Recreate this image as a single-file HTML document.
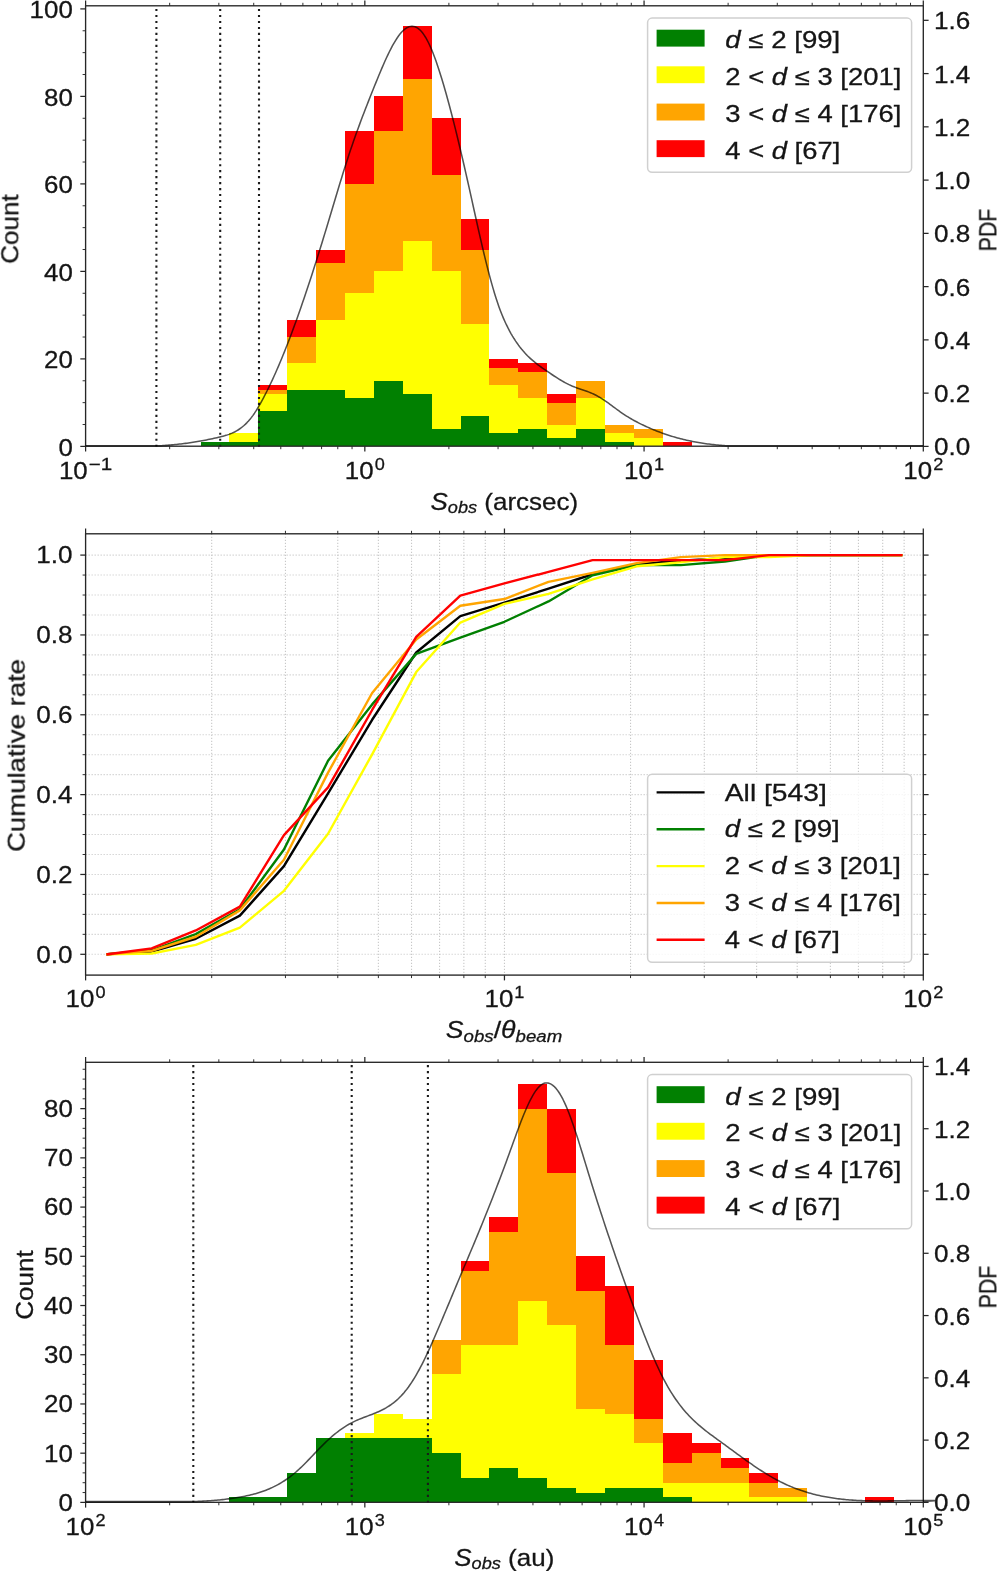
<!DOCTYPE html>
<html><head><meta charset="utf-8"><title>Sobs distributions</title>
<style>
html,body{margin:0;padding:0;background:#fff;}
body{width:997px;height:1571px;overflow:hidden;font-family:"Liberation Sans",sans-serif;}
svg{display:block;font-family:"Liberation Sans",sans-serif;}
svg text{fill:#151515;stroke:#151515;stroke-width:0.28px;}
</style></head><body>
<svg width="997" height="1571" viewBox="0 0 997 1571">
<rect width="997" height="1571" fill="#fff"/>
<g opacity="0.999">
<g>
<path d="M200.54 446.4L200.54 442.02L229.43 442.02L229.43 433.27L258.32 433.27L258.32 385.15L287.2 385.15L287.2 319.52L316.09 319.52L316.09 249.52L344.98 249.52L344.98 131.4L373.86 131.4L373.86 96.4L402.75 96.4L402.75 26.4L431.63 26.4L431.63 118.27L460.52 118.27L460.52 218.9L489.41 218.9L489.41 358.9L518.29 358.9L518.29 363.27L547.18 363.27L547.18 393.9L576.07 393.9L576.07 380.77L604.95 380.77L604.95 424.52L633.84 424.52L633.84 428.9L662.72 428.9L662.72 442.02L691.61 442.02L691.61 446.4Z" fill="#ff0000" shape-rendering="crispEdges"/>
<path d="M200.54 446.4L200.54 442.02L229.43 442.02L229.43 433.27L258.32 433.27L258.32 389.52L287.2 389.52L287.2 337.02L316.09 337.02L316.09 262.65L344.98 262.65L344.98 183.9L373.86 183.9L373.86 131.4L402.75 131.4L402.75 78.9L431.63 78.9L431.63 175.15L460.52 175.15L460.52 249.52L489.41 249.52L489.41 367.65L518.29 367.65L518.29 372.02L547.18 372.02L547.18 402.65L576.07 402.65L576.07 380.77L604.95 380.77L604.95 424.52L633.84 424.52L633.84 428.9L662.72 428.9L662.72 446.4Z" fill="#ffa500" shape-rendering="crispEdges"/>
<path d="M200.54 446.4L200.54 442.02L229.43 442.02L229.43 433.27L258.32 433.27L258.32 393.9L287.2 393.9L287.2 363.27L316.09 363.27L316.09 319.52L344.98 319.52L344.98 293.27L373.86 293.27L373.86 271.4L402.75 271.4L402.75 240.77L431.63 240.77L431.63 271.4L460.52 271.4L460.52 323.9L489.41 323.9L489.41 385.15L518.29 385.15L518.29 398.27L547.18 398.27L547.18 424.52L576.07 424.52L576.07 398.27L604.95 398.27L604.95 433.27L633.84 433.27L633.84 437.65L662.72 437.65L662.72 446.4Z" fill="#ffff00" shape-rendering="crispEdges"/>
<path d="M200.54 446.4L200.54 442.02L229.43 442.02L229.43 442.02L258.32 442.02L258.32 411.4L287.2 411.4L287.2 389.52L316.09 389.52L316.09 389.52L344.98 389.52L344.98 398.27L373.86 398.27L373.86 380.77L402.75 380.77L402.75 393.9L431.63 393.9L431.63 428.9L460.52 428.9L460.52 415.77L489.41 415.77L489.41 433.27L518.29 433.27L518.29 428.9L547.18 428.9L547.18 437.65L576.07 437.65L576.07 428.9L604.95 428.9L604.95 442.02L633.84 442.02L633.84 446.4Z" fill="#008000" shape-rendering="crispEdges"/>
<path d="M156.4 446.75V6.4" stroke="#1a1a1a" stroke-width="2.1" stroke-dasharray="2.1 3.868" fill="none"/>
<path d="M220.2 446.75V6.4" stroke="#1a1a1a" stroke-width="2.1" stroke-dasharray="2.1 3.868" fill="none"/>
<path d="M259 446.75V6.4" stroke="#1a1a1a" stroke-width="2.1" stroke-dasharray="2.1 3.868" fill="none"/>
<rect x="85.6" y="5.8" width="837.7" height="440.4" fill="none" stroke="#262626" stroke-width="1.35"/>
<path d="M85.6 446.2v5.3" stroke="#262626" stroke-width="1.25"/>
<path d="M85.6 5.8v-5.3" stroke="#262626" stroke-width="1.25"/>
<path d="M169.66 446.2v3" stroke="#262626" stroke-width="0.95"/>
<path d="M169.66 5.8v-3" stroke="#262626" stroke-width="0.95"/>
<path d="M218.83 446.2v3" stroke="#262626" stroke-width="0.95"/>
<path d="M218.83 5.8v-3" stroke="#262626" stroke-width="0.95"/>
<path d="M253.72 446.2v3" stroke="#262626" stroke-width="0.95"/>
<path d="M253.72 5.8v-3" stroke="#262626" stroke-width="0.95"/>
<path d="M280.78 446.2v3" stroke="#262626" stroke-width="0.95"/>
<path d="M280.78 5.8v-3" stroke="#262626" stroke-width="0.95"/>
<path d="M302.89 446.2v3" stroke="#262626" stroke-width="0.95"/>
<path d="M302.89 5.8v-3" stroke="#262626" stroke-width="0.95"/>
<path d="M321.58 446.2v3" stroke="#262626" stroke-width="0.95"/>
<path d="M321.58 5.8v-3" stroke="#262626" stroke-width="0.95"/>
<path d="M337.77 446.2v3" stroke="#262626" stroke-width="0.95"/>
<path d="M337.77 5.8v-3" stroke="#262626" stroke-width="0.95"/>
<path d="M352.06 446.2v3" stroke="#262626" stroke-width="0.95"/>
<path d="M352.06 5.8v-3" stroke="#262626" stroke-width="0.95"/>
<path d="M364.83 446.2v5.3" stroke="#262626" stroke-width="1.25"/>
<path d="M364.83 5.8v-5.3" stroke="#262626" stroke-width="1.25"/>
<path d="M448.89 446.2v3" stroke="#262626" stroke-width="0.95"/>
<path d="M448.89 5.8v-3" stroke="#262626" stroke-width="0.95"/>
<path d="M498.06 446.2v3" stroke="#262626" stroke-width="0.95"/>
<path d="M498.06 5.8v-3" stroke="#262626" stroke-width="0.95"/>
<path d="M532.95 446.2v3" stroke="#262626" stroke-width="0.95"/>
<path d="M532.95 5.8v-3" stroke="#262626" stroke-width="0.95"/>
<path d="M560.01 446.2v3" stroke="#262626" stroke-width="0.95"/>
<path d="M560.01 5.8v-3" stroke="#262626" stroke-width="0.95"/>
<path d="M582.12 446.2v3" stroke="#262626" stroke-width="0.95"/>
<path d="M582.12 5.8v-3" stroke="#262626" stroke-width="0.95"/>
<path d="M600.81 446.2v3" stroke="#262626" stroke-width="0.95"/>
<path d="M600.81 5.8v-3" stroke="#262626" stroke-width="0.95"/>
<path d="M617.01 446.2v3" stroke="#262626" stroke-width="0.95"/>
<path d="M617.01 5.8v-3" stroke="#262626" stroke-width="0.95"/>
<path d="M631.29 446.2v3" stroke="#262626" stroke-width="0.95"/>
<path d="M631.29 5.8v-3" stroke="#262626" stroke-width="0.95"/>
<path d="M644.07 446.2v5.3" stroke="#262626" stroke-width="1.25"/>
<path d="M644.07 5.8v-5.3" stroke="#262626" stroke-width="1.25"/>
<path d="M728.12 446.2v3" stroke="#262626" stroke-width="0.95"/>
<path d="M728.12 5.8v-3" stroke="#262626" stroke-width="0.95"/>
<path d="M777.29 446.2v3" stroke="#262626" stroke-width="0.95"/>
<path d="M777.29 5.8v-3" stroke="#262626" stroke-width="0.95"/>
<path d="M812.18 446.2v3" stroke="#262626" stroke-width="0.95"/>
<path d="M812.18 5.8v-3" stroke="#262626" stroke-width="0.95"/>
<path d="M839.24 446.2v3" stroke="#262626" stroke-width="0.95"/>
<path d="M839.24 5.8v-3" stroke="#262626" stroke-width="0.95"/>
<path d="M861.35 446.2v3" stroke="#262626" stroke-width="0.95"/>
<path d="M861.35 5.8v-3" stroke="#262626" stroke-width="0.95"/>
<path d="M880.05 446.2v3" stroke="#262626" stroke-width="0.95"/>
<path d="M880.05 5.8v-3" stroke="#262626" stroke-width="0.95"/>
<path d="M896.24 446.2v3" stroke="#262626" stroke-width="0.95"/>
<path d="M896.24 5.8v-3" stroke="#262626" stroke-width="0.95"/>
<path d="M910.52 446.2v3" stroke="#262626" stroke-width="0.95"/>
<path d="M910.52 5.8v-3" stroke="#262626" stroke-width="0.95"/>
<path d="M923.3 446.2v5.3" stroke="#262626" stroke-width="1.25"/>
<path d="M923.3 5.8v-5.3" stroke="#262626" stroke-width="1.25"/>
<path d="M85.6 446.4h-5.3" stroke="#262626" stroke-width="1.25"/>
<path d="M85.6 358.9h-5.3" stroke="#262626" stroke-width="1.25"/>
<path d="M85.6 271.4h-5.3" stroke="#262626" stroke-width="1.25"/>
<path d="M85.6 183.9h-5.3" stroke="#262626" stroke-width="1.25"/>
<path d="M85.6 96.4h-5.3" stroke="#262626" stroke-width="1.25"/>
<path d="M85.6 8.9h-5.3" stroke="#262626" stroke-width="1.25"/>
<path d="M85.6 424.52h-3" stroke="#262626" stroke-width="0.95"/>
<path d="M85.6 402.65h-3" stroke="#262626" stroke-width="0.95"/>
<path d="M85.6 380.77h-3" stroke="#262626" stroke-width="0.95"/>
<path d="M85.6 337.02h-3" stroke="#262626" stroke-width="0.95"/>
<path d="M85.6 315.15h-3" stroke="#262626" stroke-width="0.95"/>
<path d="M85.6 293.27h-3" stroke="#262626" stroke-width="0.95"/>
<path d="M85.6 249.52h-3" stroke="#262626" stroke-width="0.95"/>
<path d="M85.6 227.65h-3" stroke="#262626" stroke-width="0.95"/>
<path d="M85.6 205.77h-3" stroke="#262626" stroke-width="0.95"/>
<path d="M85.6 162.02h-3" stroke="#262626" stroke-width="0.95"/>
<path d="M85.6 140.15h-3" stroke="#262626" stroke-width="0.95"/>
<path d="M85.6 118.27h-3" stroke="#262626" stroke-width="0.95"/>
<path d="M85.6 74.52h-3" stroke="#262626" stroke-width="0.95"/>
<path d="M85.6 52.65h-3" stroke="#262626" stroke-width="0.95"/>
<path d="M85.6 30.77h-3" stroke="#262626" stroke-width="0.95"/>
<path d="M923.3 446.4h5.3" stroke="#262626" stroke-width="1.25"/>
<path d="M923.3 393.14h5.3" stroke="#262626" stroke-width="1.25"/>
<path d="M923.3 339.88h5.3" stroke="#262626" stroke-width="1.25"/>
<path d="M923.3 286.62h5.3" stroke="#262626" stroke-width="1.25"/>
<path d="M923.3 233.36h5.3" stroke="#262626" stroke-width="1.25"/>
<path d="M923.3 180.1h5.3" stroke="#262626" stroke-width="1.25"/>
<path d="M923.3 126.84h5.3" stroke="#262626" stroke-width="1.25"/>
<path d="M923.3 73.58h5.3" stroke="#262626" stroke-width="1.25"/>
<path d="M923.3 20.32h5.3" stroke="#262626" stroke-width="1.25"/>
<path d="M85.6 445.7L151 445.7 152.5 445.7 154 445.7 155.5 445.7 157 445.7 158.5 445.7 160 445.7 161.5 445.65 163 445.56 164.5 445.46 166 445.36 167.5 445.25 169 445.13 170.5 445 172 444.87 173.5 444.73 175 444.59 176.5 444.43 178 444.27 179.5 444.1 181 443.93 182.5 443.75 184 443.56 185.5 443.36 187 443.16 188.5 442.95 190 442.73 191.5 442.51 193 442.28 194.5 442.04 196 441.79 197.5 441.54 199 441.29 200.5 441.02 202 440.75 203.5 440.47 205 440.19 206.5 439.89 208 439.6 209.5 439.29 211 438.98 212.5 438.66 214 438.34 215.5 438 217 437.67 218.5 437.32 220 436.97 221.5 436.6 223 436.22 224.5 435.81 226 435.36 227.5 434.88 229 434.36 230.5 433.79 232 433.16 233.5 432.48 235 431.72 236.5 430.9 238 429.99 239.5 429 241 427.93 242.5 426.75 244 425.47 245.5 424.09 247 422.59 248.5 420.97 250 419.23 251.5 417.36 253 415.34 254.5 413.19 256 410.9 257.5 408.48 259 405.96 260.5 403.33 262 400.61 263.5 397.82 265 394.95 266.5 392.01 268 389 269.5 385.93 271 382.78 272.5 379.57 274 376.29 275.5 372.95 277 369.54 278.5 366.07 280 362.54 281.5 358.95 283 355.3 284.5 351.59 286 347.82 287.5 343.99 289 340.11 290.5 336.18 292 332.19 293.5 328.14 295 324.05 296.5 319.9 298 315.71 299.5 311.47 301 307.18 302.5 302.84 304 298.45 305.5 294.03 307 289.55 308.5 285.04 310 280.48 311.5 275.89 313 271.25 314.5 266.58 316 261.86 317.5 257.11 319 252.33 320.5 247.51 322 242.66 323.5 237.77 325 232.86 326.5 227.91 328 222.93 329.5 217.94 331 212.93 332.5 207.92 334 202.91 335.5 197.91 337 192.92 338.5 187.96 340 183.04 341.5 178.15 343 173.31 344.5 168.52 346 163.8 347.5 159.14 349 154.56 350.5 150.07 352 145.65 353.5 141.31 355 137.04 356.5 132.84 358 128.69 359.5 124.61 361 120.58 362.5 116.6 364 112.67 365.5 108.78 367 104.93 368.5 101.11 370 97.32 371.5 93.55 373 89.81 374.5 86.08 376 82.37 377.5 78.68 379 75.04 380.5 71.44 382 67.9 383.5 64.44 385 61.05 386.5 57.76 388 54.57 389.5 51.5 391 48.55 392.5 45.73 394 43.06 395.5 40.55 397 38.21 398.5 36.05 400 34.07 401.5 32.3 403 30.74 404.5 29.4 406 28.29 407.5 27.42 409 26.79 410.5 26.41 412 26.28 413.5 26.4 415 26.79 416.5 27.44 418 28.36 419.5 29.56 421 31.04 422.5 32.8 424 34.86 425.5 37.21 427 39.85 428.5 42.77 430 45.95 431.5 49.39 433 53.07 434.5 56.98 436 61.1 437.5 65.44 439 69.96 440.5 74.67 442 79.54 443.5 84.57 445 89.75 446.5 95.06 448 100.5 449.5 106.05 451 111.73 452.5 117.52 454 123.42 455.5 129.41 457 135.51 458.5 141.7 460 147.97 461.5 154.33 463 160.76 464.5 167.27 466 173.85 467.5 180.48 469 187.18 470.5 193.92 472 200.7 473.5 207.49 475 214.27 476.5 221.03 478 227.74 479.5 234.38 481 240.94 482.5 247.39 484 253.72 485.5 259.89 487 265.91 488.5 271.76 490 277.43 491.5 282.9 493 288.16 494.5 293.2 496 298.02 497.5 302.59 499 306.91 500.5 310.97 502 314.79 503.5 318.38 505 321.76 506.5 324.96 508 327.97 509.5 330.82 511 333.53 512.5 336.1 514 338.54 515.5 340.86 517 343.07 518.5 345.16 520 347.15 521.5 349.04 523 350.84 524.5 352.54 526 354.16 527.5 355.71 529 357.18 530.5 358.58 532 359.92 533.5 361.21 535 362.45 536.5 363.64 538 364.79 539.5 365.91 541 367 542.5 368.06 544 369.11 545.5 370.15 547 371.18 548.5 372.2 550 373.23 551.5 374.24 553 375.24 554.5 376.23 556 377.21 557.5 378.17 559 379.1 560.5 380.02 562 380.91 563.5 381.77 565 382.59 566.5 383.39 568 384.15 569.5 384.87 571 385.55 572.5 386.19 574 386.79 575.5 387.37 577 387.92 578.5 388.45 580 388.96 581.5 389.48 583 389.99 584.5 390.5 586 391.03 587.5 391.57 589 392.14 590.5 392.73 592 393.36 593.5 394.03 595 394.75 596.5 395.52 598 396.34 599.5 397.21 601 398.13 602.5 399.09 604 400.08 605.5 401.11 607 402.16 608.5 403.23 610 404.32 611.5 405.42 613 406.53 614.5 407.64 616 408.75 617.5 409.85 619 410.94 620.5 412.01 622 413.05 623.5 414.08 625 415.07 626.5 416.03 628 416.96 629.5 417.87 631 418.75 632.5 419.61 634 420.45 635.5 421.26 637 422.05 638.5 422.83 640 423.59 641.5 424.33 643 425.05 644.5 425.77 646 426.46 647.5 427.14 649 427.81 650.5 428.46 652 429.1 653.5 429.73 655 430.34 656.5 430.93 658 431.52 659.5 432.09 661 432.64 662.5 433.18 664 433.71 665.5 434.23 667 434.73 668.5 435.22 670 435.7 671.5 436.16 673 436.62 674.5 437.06 676 437.48 677.5 437.9 679 438.3 680.5 438.7 682 439.08 683.5 439.45 685 439.8 686.5 440.15 688 440.49 689.5 440.81 691 441.12 692.5 441.43 694 441.72 695.5 442 697 442.27 698.5 442.54 700 442.79 701.5 443.03 703 443.26 704.5 443.49 706 443.7 707.5 443.9 709 444.1 710.5 444.28 712 444.46 713.5 444.63 715 444.79 716.5 444.94 718 445.08 719.5 445.21 721 445.34 722.5 445.46 724 445.57 725.5 445.67 727 445.7 728.5 445.7 730 445.7 731.5 445.7 733 445.7 734.5 445.7 736 445.7 737.5 445.7 739 445.7 740.5 445.7 742 445.7 743.5 445.7 745 445.7 746.5 445.7 748 445.7 749.5 445.7 751 445.7 752.5 445.7 754 445.7 923.3 445.7" fill="none" stroke="#000" stroke-opacity="0.68" stroke-width="1.55" stroke-linejoin="round"/>
<text x="72.8" y="455.7" font-size="24" text-anchor="end" textLength="14.4" lengthAdjust="spacingAndGlyphs">0</text>
<text x="72.8" y="368.2" font-size="24" text-anchor="end" textLength="28.8" lengthAdjust="spacingAndGlyphs">20</text>
<text x="72.8" y="280.7" font-size="24" text-anchor="end" textLength="28.8" lengthAdjust="spacingAndGlyphs">40</text>
<text x="72.8" y="193.2" font-size="24" text-anchor="end" textLength="28.8" lengthAdjust="spacingAndGlyphs">60</text>
<text x="72.8" y="105.7" font-size="24" text-anchor="end" textLength="28.8" lengthAdjust="spacingAndGlyphs">80</text>
<text x="72.8" y="18.2" font-size="24" text-anchor="end" textLength="43.2" lengthAdjust="spacingAndGlyphs">100</text>
<text x="934" y="455.4" font-size="24" text-anchor="start" textLength="36.3" lengthAdjust="spacingAndGlyphs">0.0</text>
<text x="934" y="402.14" font-size="24" text-anchor="start" textLength="36.3" lengthAdjust="spacingAndGlyphs">0.2</text>
<text x="934" y="348.88" font-size="24" text-anchor="start" textLength="36.3" lengthAdjust="spacingAndGlyphs">0.4</text>
<text x="934" y="295.62" font-size="24" text-anchor="start" textLength="36.3" lengthAdjust="spacingAndGlyphs">0.6</text>
<text x="934" y="242.36" font-size="24" text-anchor="start" textLength="36.3" lengthAdjust="spacingAndGlyphs">0.8</text>
<text x="934" y="189.1" font-size="24" text-anchor="start" textLength="36.3" lengthAdjust="spacingAndGlyphs">1.0</text>
<text x="934" y="135.84" font-size="24" text-anchor="start" textLength="36.3" lengthAdjust="spacingAndGlyphs">1.2</text>
<text x="934" y="82.58" font-size="24" text-anchor="start" textLength="36.3" lengthAdjust="spacingAndGlyphs">1.4</text>
<text x="934" y="29.32" font-size="24" text-anchor="start" textLength="36.3" lengthAdjust="spacingAndGlyphs">1.6</text>
<text x="58.94" y="479" font-size="24" text-anchor="start" textLength="28.82" lengthAdjust="spacingAndGlyphs">10</text>
<text x="88.76" y="470.36" font-size="16.8" text-anchor="start" textLength="23.5" lengthAdjust="spacingAndGlyphs">−1</text>
<text x="344.84" y="479" font-size="24" text-anchor="start" textLength="28.82" lengthAdjust="spacingAndGlyphs">10</text>
<text x="374.67" y="470.36" font-size="16.8" text-anchor="start" textLength="10.09" lengthAdjust="spacingAndGlyphs">0</text>
<text x="624.14" y="479" font-size="24" text-anchor="start" textLength="28.82" lengthAdjust="spacingAndGlyphs">10</text>
<text x="653.97" y="470.36" font-size="16.8" text-anchor="start" textLength="10.09" lengthAdjust="spacingAndGlyphs">1</text>
<text x="903.34" y="479" font-size="24" text-anchor="start" textLength="28.82" lengthAdjust="spacingAndGlyphs">10</text>
<text x="933.17" y="470.36" font-size="16.8" text-anchor="start" textLength="10.09" lengthAdjust="spacingAndGlyphs">2</text>
<text x="504.3" y="510" font-size="24" text-anchor="middle" textLength="147.6" lengthAdjust="spacingAndGlyphs"><tspan font-style='italic'>S</tspan><tspan font-style='italic' font-size='16.8' dy='3.4'>obs</tspan><tspan dy='-3.4'> (arcsec)</tspan></text>
<text x="18.3" y="229" font-size="24" text-anchor="middle" textLength="69.5" lengthAdjust="spacingAndGlyphs" transform="rotate(-90 18.3 229)">Count</text>
<text x="996.3" y="230" font-size="24" text-anchor="middle" textLength="42.5" lengthAdjust="spacingAndGlyphs" transform="rotate(-90 996.3 230)">PDF</text>
<rect x="647.6" y="18.1" width="264" height="154.2" rx="4.5" fill="#fff" fill-opacity="0.8" stroke="#d0d0d0" stroke-width="1.5"/>
<rect x="656.6" y="29.7" width="48" height="16.9" fill="#008000"/>
<text x="725.3" y="48" font-size="23.2" text-anchor="start" textLength="115" lengthAdjust="spacingAndGlyphs"><tspan font-style='italic'>d</tspan> ≤ 2 [99]</text>
<rect x="656.6" y="66.3" width="48" height="16.9" fill="#ffff00"/>
<text x="725.3" y="84.6" font-size="23.2" text-anchor="start" textLength="176" lengthAdjust="spacingAndGlyphs">2 &lt; <tspan font-style='italic'>d</tspan> ≤ 3 [201]</text>
<rect x="656.6" y="103.6" width="48" height="16.9" fill="#ffa500"/>
<text x="725.3" y="121.9" font-size="23.2" text-anchor="start" textLength="176" lengthAdjust="spacingAndGlyphs">3 &lt; <tspan font-style='italic'>d</tspan> ≤ 4 [176]</text>
<rect x="656.6" y="140.2" width="48" height="16.9" fill="#ff0000"/>
<text x="725.3" y="158.5" font-size="23.2" text-anchor="start" textLength="115" lengthAdjust="spacingAndGlyphs">4 &lt; <tspan font-style='italic'>d</tspan> [67]</text>
</g>
<g>
<path d="M211.69 533.8V975.1" stroke="#c8c8c8" stroke-width="1.1" stroke-dasharray="1.1 1.9" fill="none"/>
<path d="M285.44 533.8V975.1" stroke="#c8c8c8" stroke-width="1.1" stroke-dasharray="1.1 1.9" fill="none"/>
<path d="M337.77 533.8V975.1" stroke="#c8c8c8" stroke-width="1.1" stroke-dasharray="1.1 1.9" fill="none"/>
<path d="M378.36 533.8V975.1" stroke="#c8c8c8" stroke-width="1.1" stroke-dasharray="1.1 1.9" fill="none"/>
<path d="M411.53 533.8V975.1" stroke="#c8c8c8" stroke-width="1.1" stroke-dasharray="1.1 1.9" fill="none"/>
<path d="M439.57 533.8V975.1" stroke="#c8c8c8" stroke-width="1.1" stroke-dasharray="1.1 1.9" fill="none"/>
<path d="M463.86 533.8V975.1" stroke="#c8c8c8" stroke-width="1.1" stroke-dasharray="1.1 1.9" fill="none"/>
<path d="M485.28 533.8V975.1" stroke="#c8c8c8" stroke-width="1.1" stroke-dasharray="1.1 1.9" fill="none"/>
<path d="M504.45 533.8V975.1" stroke="#c8c8c8" stroke-width="1.1" stroke-dasharray="1.1 1.9" fill="none"/>
<path d="M630.54 533.8V975.1" stroke="#c8c8c8" stroke-width="1.1" stroke-dasharray="1.1 1.9" fill="none"/>
<path d="M704.29 533.8V975.1" stroke="#c8c8c8" stroke-width="1.1" stroke-dasharray="1.1 1.9" fill="none"/>
<path d="M756.62 533.8V975.1" stroke="#c8c8c8" stroke-width="1.1" stroke-dasharray="1.1 1.9" fill="none"/>
<path d="M797.21 533.8V975.1" stroke="#c8c8c8" stroke-width="1.1" stroke-dasharray="1.1 1.9" fill="none"/>
<path d="M830.38 533.8V975.1" stroke="#c8c8c8" stroke-width="1.1" stroke-dasharray="1.1 1.9" fill="none"/>
<path d="M858.42 533.8V975.1" stroke="#c8c8c8" stroke-width="1.1" stroke-dasharray="1.1 1.9" fill="none"/>
<path d="M882.71 533.8V975.1" stroke="#c8c8c8" stroke-width="1.1" stroke-dasharray="1.1 1.9" fill="none"/>
<path d="M904.13 533.8V975.1" stroke="#c8c8c8" stroke-width="1.1" stroke-dasharray="1.1 1.9" fill="none"/>
<path d="M85.6 954.3H923.3" stroke="#c8c8c8" stroke-width="1.1" stroke-dasharray="1.1 1.9" fill="none"/>
<path d="M85.6 934.34H923.3" stroke="#c8c8c8" stroke-width="1.1" stroke-dasharray="1.1 1.9" fill="none"/>
<path d="M85.6 914.38H923.3" stroke="#c8c8c8" stroke-width="1.1" stroke-dasharray="1.1 1.9" fill="none"/>
<path d="M85.6 894.42H923.3" stroke="#c8c8c8" stroke-width="1.1" stroke-dasharray="1.1 1.9" fill="none"/>
<path d="M85.6 874.46H923.3" stroke="#c8c8c8" stroke-width="1.1" stroke-dasharray="1.1 1.9" fill="none"/>
<path d="M85.6 854.5H923.3" stroke="#c8c8c8" stroke-width="1.1" stroke-dasharray="1.1 1.9" fill="none"/>
<path d="M85.6 834.54H923.3" stroke="#c8c8c8" stroke-width="1.1" stroke-dasharray="1.1 1.9" fill="none"/>
<path d="M85.6 814.58H923.3" stroke="#c8c8c8" stroke-width="1.1" stroke-dasharray="1.1 1.9" fill="none"/>
<path d="M85.6 794.62H923.3" stroke="#c8c8c8" stroke-width="1.1" stroke-dasharray="1.1 1.9" fill="none"/>
<path d="M85.6 774.66H923.3" stroke="#c8c8c8" stroke-width="1.1" stroke-dasharray="1.1 1.9" fill="none"/>
<path d="M85.6 754.7H923.3" stroke="#c8c8c8" stroke-width="1.1" stroke-dasharray="1.1 1.9" fill="none"/>
<path d="M85.6 734.74H923.3" stroke="#c8c8c8" stroke-width="1.1" stroke-dasharray="1.1 1.9" fill="none"/>
<path d="M85.6 714.78H923.3" stroke="#c8c8c8" stroke-width="1.1" stroke-dasharray="1.1 1.9" fill="none"/>
<path d="M85.6 694.82H923.3" stroke="#c8c8c8" stroke-width="1.1" stroke-dasharray="1.1 1.9" fill="none"/>
<path d="M85.6 674.86H923.3" stroke="#c8c8c8" stroke-width="1.1" stroke-dasharray="1.1 1.9" fill="none"/>
<path d="M85.6 654.9H923.3" stroke="#c8c8c8" stroke-width="1.1" stroke-dasharray="1.1 1.9" fill="none"/>
<path d="M85.6 634.94H923.3" stroke="#c8c8c8" stroke-width="1.1" stroke-dasharray="1.1 1.9" fill="none"/>
<path d="M85.6 614.98H923.3" stroke="#c8c8c8" stroke-width="1.1" stroke-dasharray="1.1 1.9" fill="none"/>
<path d="M85.6 595.02H923.3" stroke="#c8c8c8" stroke-width="1.1" stroke-dasharray="1.1 1.9" fill="none"/>
<path d="M85.6 575.06H923.3" stroke="#c8c8c8" stroke-width="1.1" stroke-dasharray="1.1 1.9" fill="none"/>
<path d="M85.6 555.1H923.3" stroke="#c8c8c8" stroke-width="1.1" stroke-dasharray="1.1 1.9" fill="none"/>
<polyline points="107.6 954.3 151.69 951.51 195.78 938.73 239.87 915.58 283.96 866.08 328.05 793.42 372.14 719.77 416.23 652.5 460.32 616.18 504.41 602.6 548.5 588.63 592.59 574.26 636.68 564.28 680.77 560.69 724.86 558.29 768.95 555.9 813.04 555.1 857.13 555.1 901.22 555.1" fill="none" stroke="#000000" stroke-width="2.4" stroke-linejoin="round" stroke-linecap="square"/>
<polyline points="107.6 954.3 151.69 950.27 195.78 934.14 239.87 909.19 283.96 849.47 328.05 760.77 372.14 704.4 416.23 653.9 460.32 637.73 504.41 621.77 548.5 601.41 592.59 575.26 636.68 565.08 680.77 565.08 724.86 561.49 768.95 555.1 813.04 555.1 857.13 555.1 901.22 555.1" fill="none" stroke="#008000" stroke-width="2.4" stroke-linejoin="round" stroke-linecap="square"/>
<polyline points="107.6 954.3 151.69 953.5 195.78 944.92 239.87 927.55 283.96 890.83 328.05 833.74 372.14 754.3 416.23 672.07 460.32 622.56 504.41 603.8 548.5 593.82 592.59 579.45 636.68 566.28 680.77 562.29 724.86 557.1 768.95 557.1 813.04 555.1 857.13 555.1 901.22 555.1" fill="none" stroke="#ffff00" stroke-width="2.4" stroke-linejoin="round" stroke-linecap="square"/>
<polyline points="107.6 954.3 151.69 950.91 195.78 936.74 239.87 910.39 283.96 859.69 328.05 772.66 372.14 693.02 416.23 639.53 460.32 605.8 504.41 599.01 548.5 581.85 592.59 572.86 636.68 563.08 680.77 557.1 724.86 555.1 768.95 555.1 813.04 555.1 857.13 555.1 901.22 555.1" fill="none" stroke="#ffa500" stroke-width="2.4" stroke-linejoin="round" stroke-linecap="square"/>
<polyline points="107.6 954.3 151.69 948.35 195.78 930.47 239.87 906.64 283.96 835.14 328.05 787.43 372.14 709.99 416.23 636.94 460.32 595.62 504.41 583.44 548.5 571.87 592.59 560.09 636.68 560.09 680.77 560.09 724.86 560.09 768.95 555.1 813.04 555.1 857.13 555.1 901.22 555.1" fill="none" stroke="#ff0000" stroke-width="2.4" stroke-linejoin="round" stroke-linecap="square"/>
<rect x="85.6" y="533.8" width="837.7" height="441.3" fill="none" stroke="#262626" stroke-width="1.35"/>
<path d="M85.6 975.1v5.3" stroke="#262626" stroke-width="1.25"/>
<path d="M85.6 533.8v-5.3" stroke="#262626" stroke-width="1.25"/>
<path d="M211.69 975.1v3" stroke="#262626" stroke-width="0.95"/>
<path d="M211.69 533.8v-3" stroke="#262626" stroke-width="0.95"/>
<path d="M285.44 975.1v3" stroke="#262626" stroke-width="0.95"/>
<path d="M285.44 533.8v-3" stroke="#262626" stroke-width="0.95"/>
<path d="M337.77 975.1v3" stroke="#262626" stroke-width="0.95"/>
<path d="M337.77 533.8v-3" stroke="#262626" stroke-width="0.95"/>
<path d="M378.36 975.1v3" stroke="#262626" stroke-width="0.95"/>
<path d="M378.36 533.8v-3" stroke="#262626" stroke-width="0.95"/>
<path d="M411.53 975.1v3" stroke="#262626" stroke-width="0.95"/>
<path d="M411.53 533.8v-3" stroke="#262626" stroke-width="0.95"/>
<path d="M439.57 975.1v3" stroke="#262626" stroke-width="0.95"/>
<path d="M439.57 533.8v-3" stroke="#262626" stroke-width="0.95"/>
<path d="M463.86 975.1v3" stroke="#262626" stroke-width="0.95"/>
<path d="M463.86 533.8v-3" stroke="#262626" stroke-width="0.95"/>
<path d="M485.28 975.1v3" stroke="#262626" stroke-width="0.95"/>
<path d="M485.28 533.8v-3" stroke="#262626" stroke-width="0.95"/>
<path d="M504.45 975.1v5.3" stroke="#262626" stroke-width="1.25"/>
<path d="M504.45 533.8v-5.3" stroke="#262626" stroke-width="1.25"/>
<path d="M630.54 975.1v3" stroke="#262626" stroke-width="0.95"/>
<path d="M630.54 533.8v-3" stroke="#262626" stroke-width="0.95"/>
<path d="M704.29 975.1v3" stroke="#262626" stroke-width="0.95"/>
<path d="M704.29 533.8v-3" stroke="#262626" stroke-width="0.95"/>
<path d="M756.62 975.1v3" stroke="#262626" stroke-width="0.95"/>
<path d="M756.62 533.8v-3" stroke="#262626" stroke-width="0.95"/>
<path d="M797.21 975.1v3" stroke="#262626" stroke-width="0.95"/>
<path d="M797.21 533.8v-3" stroke="#262626" stroke-width="0.95"/>
<path d="M830.38 975.1v3" stroke="#262626" stroke-width="0.95"/>
<path d="M830.38 533.8v-3" stroke="#262626" stroke-width="0.95"/>
<path d="M858.42 975.1v3" stroke="#262626" stroke-width="0.95"/>
<path d="M858.42 533.8v-3" stroke="#262626" stroke-width="0.95"/>
<path d="M882.71 975.1v3" stroke="#262626" stroke-width="0.95"/>
<path d="M882.71 533.8v-3" stroke="#262626" stroke-width="0.95"/>
<path d="M904.13 975.1v3" stroke="#262626" stroke-width="0.95"/>
<path d="M904.13 533.8v-3" stroke="#262626" stroke-width="0.95"/>
<path d="M923.3 975.1v5.3" stroke="#262626" stroke-width="1.25"/>
<path d="M923.3 533.8v-5.3" stroke="#262626" stroke-width="1.25"/>
<path d="M85.6 954.3h-5.3" stroke="#262626" stroke-width="1.25"/>
<path d="M85.6 874.46h-5.3" stroke="#262626" stroke-width="1.25"/>
<path d="M85.6 794.62h-5.3" stroke="#262626" stroke-width="1.25"/>
<path d="M85.6 714.78h-5.3" stroke="#262626" stroke-width="1.25"/>
<path d="M85.6 634.94h-5.3" stroke="#262626" stroke-width="1.25"/>
<path d="M85.6 555.1h-5.3" stroke="#262626" stroke-width="1.25"/>
<path d="M923.3 954.3h5.3" stroke="#262626" stroke-width="1.25"/>
<path d="M923.3 874.46h5.3" stroke="#262626" stroke-width="1.25"/>
<path d="M923.3 794.62h5.3" stroke="#262626" stroke-width="1.25"/>
<path d="M923.3 714.78h5.3" stroke="#262626" stroke-width="1.25"/>
<path d="M923.3 634.94h5.3" stroke="#262626" stroke-width="1.25"/>
<path d="M923.3 555.1h5.3" stroke="#262626" stroke-width="1.25"/>
<path d="M85.6 934.34h-3" stroke="#262626" stroke-width="0.95"/>
<path d="M85.6 914.38h-3" stroke="#262626" stroke-width="0.95"/>
<path d="M85.6 894.42h-3" stroke="#262626" stroke-width="0.95"/>
<path d="M85.6 854.5h-3" stroke="#262626" stroke-width="0.95"/>
<path d="M85.6 834.54h-3" stroke="#262626" stroke-width="0.95"/>
<path d="M85.6 814.58h-3" stroke="#262626" stroke-width="0.95"/>
<path d="M85.6 774.66h-3" stroke="#262626" stroke-width="0.95"/>
<path d="M85.6 754.7h-3" stroke="#262626" stroke-width="0.95"/>
<path d="M85.6 734.74h-3" stroke="#262626" stroke-width="0.95"/>
<path d="M85.6 694.82h-3" stroke="#262626" stroke-width="0.95"/>
<path d="M85.6 674.86h-3" stroke="#262626" stroke-width="0.95"/>
<path d="M85.6 654.9h-3" stroke="#262626" stroke-width="0.95"/>
<path d="M85.6 614.98h-3" stroke="#262626" stroke-width="0.95"/>
<path d="M85.6 595.02h-3" stroke="#262626" stroke-width="0.95"/>
<path d="M85.6 575.06h-3" stroke="#262626" stroke-width="0.95"/>
<path d="M923.3 934.34h3" stroke="#262626" stroke-width="0.95"/>
<path d="M923.3 914.38h3" stroke="#262626" stroke-width="0.95"/>
<path d="M923.3 894.42h3" stroke="#262626" stroke-width="0.95"/>
<path d="M923.3 854.5h3" stroke="#262626" stroke-width="0.95"/>
<path d="M923.3 834.54h3" stroke="#262626" stroke-width="0.95"/>
<path d="M923.3 814.58h3" stroke="#262626" stroke-width="0.95"/>
<path d="M923.3 774.66h3" stroke="#262626" stroke-width="0.95"/>
<path d="M923.3 754.7h3" stroke="#262626" stroke-width="0.95"/>
<path d="M923.3 734.74h3" stroke="#262626" stroke-width="0.95"/>
<path d="M923.3 694.82h3" stroke="#262626" stroke-width="0.95"/>
<path d="M923.3 674.86h3" stroke="#262626" stroke-width="0.95"/>
<path d="M923.3 654.9h3" stroke="#262626" stroke-width="0.95"/>
<path d="M923.3 614.98h3" stroke="#262626" stroke-width="0.95"/>
<path d="M923.3 595.02h3" stroke="#262626" stroke-width="0.95"/>
<path d="M923.3 575.06h3" stroke="#262626" stroke-width="0.95"/>
<text x="72.6" y="962.5" font-size="24" text-anchor="end" textLength="36.3" lengthAdjust="spacingAndGlyphs">0.0</text>
<text x="72.6" y="882.66" font-size="24" text-anchor="end" textLength="36.3" lengthAdjust="spacingAndGlyphs">0.2</text>
<text x="72.6" y="802.82" font-size="24" text-anchor="end" textLength="36.3" lengthAdjust="spacingAndGlyphs">0.4</text>
<text x="72.6" y="722.98" font-size="24" text-anchor="end" textLength="36.3" lengthAdjust="spacingAndGlyphs">0.6</text>
<text x="72.6" y="643.14" font-size="24" text-anchor="end" textLength="36.3" lengthAdjust="spacingAndGlyphs">0.8</text>
<text x="72.6" y="563.3" font-size="24" text-anchor="end" textLength="36.3" lengthAdjust="spacingAndGlyphs">1.0</text>
<text x="65.64" y="1006.6" font-size="24" text-anchor="start" textLength="28.82" lengthAdjust="spacingAndGlyphs">10</text>
<text x="95.47" y="997.96" font-size="16.8" text-anchor="start" textLength="10.09" lengthAdjust="spacingAndGlyphs">0</text>
<text x="484.49" y="1006.6" font-size="24" text-anchor="start" textLength="28.82" lengthAdjust="spacingAndGlyphs">10</text>
<text x="514.32" y="997.96" font-size="16.8" text-anchor="start" textLength="10.09" lengthAdjust="spacingAndGlyphs">1</text>
<text x="903.34" y="1006.6" font-size="24" text-anchor="start" textLength="28.82" lengthAdjust="spacingAndGlyphs">10</text>
<text x="933.17" y="997.96" font-size="16.8" text-anchor="start" textLength="10.09" lengthAdjust="spacingAndGlyphs">2</text>
<text x="504" y="1038.2" font-size="24" text-anchor="middle" textLength="116.4" lengthAdjust="spacingAndGlyphs"><tspan font-style='italic'>S</tspan><tspan font-style='italic' font-size='16.8' dy='3.4'>obs</tspan><tspan dy='-3.4'>/</tspan><tspan font-style='italic'>θ</tspan><tspan font-style='italic' font-size='16.8' dy='3.4'>beam</tspan></text>
<text x="24.2" y="755.5" font-size="24" text-anchor="middle" textLength="193" lengthAdjust="spacingAndGlyphs" transform="rotate(-90 24.2 755.5)">Cumulative rate</text>
<rect x="647.6" y="774.2" width="264" height="188" rx="4.5" fill="#fff" fill-opacity="0.8" stroke="#d0d0d0" stroke-width="1.5"/>
<path d="M656.6 792.4h48" stroke="#000" stroke-width="2.4"/>
<text x="724.8" y="800.6" font-size="23.2" text-anchor="start" textLength="102" lengthAdjust="spacingAndGlyphs">All [543]</text>
<path d="M656.6 829.25h48" stroke="#008000" stroke-width="2.4"/>
<text x="724.8" y="837.45" font-size="23.2" text-anchor="start" textLength="115" lengthAdjust="spacingAndGlyphs"><tspan font-style='italic'>d</tspan> ≤ 2 [99]</text>
<path d="M656.6 866.1h48" stroke="#ffff00" stroke-width="2.4"/>
<text x="724.8" y="874.3" font-size="23.2" text-anchor="start" textLength="176" lengthAdjust="spacingAndGlyphs">2 &lt; <tspan font-style='italic'>d</tspan> ≤ 3 [201]</text>
<path d="M656.6 902.95h48" stroke="#ffa500" stroke-width="2.4"/>
<text x="724.8" y="911.15" font-size="23.2" text-anchor="start" textLength="176" lengthAdjust="spacingAndGlyphs">3 &lt; <tspan font-style='italic'>d</tspan> ≤ 4 [176]</text>
<path d="M656.6 939.8h48" stroke="#ff0000" stroke-width="2.4"/>
<text x="724.8" y="948" font-size="23.2" text-anchor="start" textLength="115" lengthAdjust="spacingAndGlyphs">4 &lt; <tspan font-style='italic'>d</tspan> [67]</text>
</g>
<g>
<path d="M229.43 1502.4L229.43 1497.48L258.32 1497.48L258.32 1497.48L287.2 1497.48L287.2 1472.87L316.09 1472.87L316.09 1438.41L344.98 1438.41L344.98 1433.49L373.86 1433.49L373.86 1413.8L402.75 1413.8L402.75 1418.73L431.63 1418.73L431.63 1339.97L460.52 1339.97L460.52 1261.22L489.41 1261.22L489.41 1216.92L518.29 1216.92L518.29 1084.03L547.18 1084.03L547.18 1108.64L576.07 1108.64L576.07 1256.3L604.95 1256.3L604.95 1285.83L633.84 1285.83L633.84 1359.66L662.72 1359.66L662.72 1433.49L691.61 1433.49L691.61 1443.34L720.5 1443.34L720.5 1458.1L749.38 1458.1L749.38 1472.87L778.27 1472.87L778.27 1487.63L807.16 1487.63L807.16 1502.4Z" fill="#ff0000" shape-rendering="crispEdges"/>
<path d="M864.93 1502.4L864.93 1497.48L893.81 1497.48L893.81 1502.4Z" fill="#ff0000" shape-rendering="crispEdges"/>
<path d="M229.43 1502.4L229.43 1497.48L258.32 1497.48L258.32 1497.48L287.2 1497.48L287.2 1472.87L316.09 1472.87L316.09 1438.41L344.98 1438.41L344.98 1433.49L373.86 1433.49L373.86 1413.8L402.75 1413.8L402.75 1418.73L431.63 1418.73L431.63 1339.97L460.52 1339.97L460.52 1271.07L489.41 1271.07L489.41 1231.69L518.29 1231.69L518.29 1108.64L547.18 1108.64L547.18 1172.63L576.07 1172.63L576.07 1290.75L604.95 1290.75L604.95 1344.9L633.84 1344.9L633.84 1418.73L662.72 1418.73L662.72 1463.02L691.61 1463.02L691.61 1453.18L720.5 1453.18L720.5 1467.95L749.38 1467.95L749.38 1482.71L778.27 1482.71L778.27 1487.63L807.16 1487.63L807.16 1502.4Z" fill="#ffa500" shape-rendering="crispEdges"/>
<path d="M229.43 1502.4L229.43 1497.48L258.32 1497.48L258.32 1497.48L287.2 1497.48L287.2 1472.87L316.09 1472.87L316.09 1438.41L344.98 1438.41L344.98 1433.49L373.86 1433.49L373.86 1413.8L402.75 1413.8L402.75 1418.73L431.63 1418.73L431.63 1374.43L460.52 1374.43L460.52 1344.9L489.41 1344.9L489.41 1344.9L518.29 1344.9L518.29 1300.6L547.18 1300.6L547.18 1325.21L576.07 1325.21L576.07 1408.88L604.95 1408.88L604.95 1413.8L633.84 1413.8L633.84 1443.34L662.72 1443.34L662.72 1482.71L691.61 1482.71L691.61 1482.71L720.5 1482.71L720.5 1482.71L749.38 1482.71L749.38 1497.48L778.27 1497.48L778.27 1497.48L807.16 1497.48L807.16 1502.4Z" fill="#ffff00" shape-rendering="crispEdges"/>
<path d="M229.43 1502.4L229.43 1497.48L258.32 1497.48L258.32 1497.48L287.2 1497.48L287.2 1472.87L316.09 1472.87L316.09 1438.41L344.98 1438.41L344.98 1438.41L373.86 1438.41L373.86 1438.41L402.75 1438.41L402.75 1438.41L431.63 1438.41L431.63 1453.18L460.52 1453.18L460.52 1477.79L489.41 1477.79L489.41 1467.95L518.29 1467.95L518.29 1477.79L547.18 1477.79L547.18 1487.63L576.07 1487.63L576.07 1492.56L604.95 1492.56L604.95 1487.63L633.84 1487.63L633.84 1487.63L662.72 1487.63L662.72 1497.48L691.61 1497.48L691.61 1502.4Z" fill="#008000" shape-rendering="crispEdges"/>
<path d="M193.3 1502.85V1062.9" stroke="#1a1a1a" stroke-width="2.1" stroke-dasharray="2.1 3.868" fill="none"/>
<path d="M351.7 1502.85V1062.9" stroke="#1a1a1a" stroke-width="2.1" stroke-dasharray="2.1 3.868" fill="none"/>
<path d="M427.9 1502.85V1062.9" stroke="#1a1a1a" stroke-width="2.1" stroke-dasharray="2.1 3.868" fill="none"/>
<rect x="85.6" y="1062.3" width="837.7" height="440" fill="none" stroke="#262626" stroke-width="1.35"/>
<path d="M85.6 1502.3v5.3" stroke="#262626" stroke-width="1.25"/>
<path d="M85.6 1062.3v-5.3" stroke="#262626" stroke-width="1.25"/>
<path d="M169.66 1502.3v3" stroke="#262626" stroke-width="0.95"/>
<path d="M169.66 1062.3v-3" stroke="#262626" stroke-width="0.95"/>
<path d="M218.83 1502.3v3" stroke="#262626" stroke-width="0.95"/>
<path d="M218.83 1062.3v-3" stroke="#262626" stroke-width="0.95"/>
<path d="M253.72 1502.3v3" stroke="#262626" stroke-width="0.95"/>
<path d="M253.72 1062.3v-3" stroke="#262626" stroke-width="0.95"/>
<path d="M280.78 1502.3v3" stroke="#262626" stroke-width="0.95"/>
<path d="M280.78 1062.3v-3" stroke="#262626" stroke-width="0.95"/>
<path d="M302.89 1502.3v3" stroke="#262626" stroke-width="0.95"/>
<path d="M302.89 1062.3v-3" stroke="#262626" stroke-width="0.95"/>
<path d="M321.58 1502.3v3" stroke="#262626" stroke-width="0.95"/>
<path d="M321.58 1062.3v-3" stroke="#262626" stroke-width="0.95"/>
<path d="M337.77 1502.3v3" stroke="#262626" stroke-width="0.95"/>
<path d="M337.77 1062.3v-3" stroke="#262626" stroke-width="0.95"/>
<path d="M352.06 1502.3v3" stroke="#262626" stroke-width="0.95"/>
<path d="M352.06 1062.3v-3" stroke="#262626" stroke-width="0.95"/>
<path d="M364.83 1502.3v5.3" stroke="#262626" stroke-width="1.25"/>
<path d="M364.83 1062.3v-5.3" stroke="#262626" stroke-width="1.25"/>
<path d="M448.89 1502.3v3" stroke="#262626" stroke-width="0.95"/>
<path d="M448.89 1062.3v-3" stroke="#262626" stroke-width="0.95"/>
<path d="M498.06 1502.3v3" stroke="#262626" stroke-width="0.95"/>
<path d="M498.06 1062.3v-3" stroke="#262626" stroke-width="0.95"/>
<path d="M532.95 1502.3v3" stroke="#262626" stroke-width="0.95"/>
<path d="M532.95 1062.3v-3" stroke="#262626" stroke-width="0.95"/>
<path d="M560.01 1502.3v3" stroke="#262626" stroke-width="0.95"/>
<path d="M560.01 1062.3v-3" stroke="#262626" stroke-width="0.95"/>
<path d="M582.12 1502.3v3" stroke="#262626" stroke-width="0.95"/>
<path d="M582.12 1062.3v-3" stroke="#262626" stroke-width="0.95"/>
<path d="M600.81 1502.3v3" stroke="#262626" stroke-width="0.95"/>
<path d="M600.81 1062.3v-3" stroke="#262626" stroke-width="0.95"/>
<path d="M617.01 1502.3v3" stroke="#262626" stroke-width="0.95"/>
<path d="M617.01 1062.3v-3" stroke="#262626" stroke-width="0.95"/>
<path d="M631.29 1502.3v3" stroke="#262626" stroke-width="0.95"/>
<path d="M631.29 1062.3v-3" stroke="#262626" stroke-width="0.95"/>
<path d="M644.07 1502.3v5.3" stroke="#262626" stroke-width="1.25"/>
<path d="M644.07 1062.3v-5.3" stroke="#262626" stroke-width="1.25"/>
<path d="M728.12 1502.3v3" stroke="#262626" stroke-width="0.95"/>
<path d="M728.12 1062.3v-3" stroke="#262626" stroke-width="0.95"/>
<path d="M777.29 1502.3v3" stroke="#262626" stroke-width="0.95"/>
<path d="M777.29 1062.3v-3" stroke="#262626" stroke-width="0.95"/>
<path d="M812.18 1502.3v3" stroke="#262626" stroke-width="0.95"/>
<path d="M812.18 1062.3v-3" stroke="#262626" stroke-width="0.95"/>
<path d="M839.24 1502.3v3" stroke="#262626" stroke-width="0.95"/>
<path d="M839.24 1062.3v-3" stroke="#262626" stroke-width="0.95"/>
<path d="M861.35 1502.3v3" stroke="#262626" stroke-width="0.95"/>
<path d="M861.35 1062.3v-3" stroke="#262626" stroke-width="0.95"/>
<path d="M880.05 1502.3v3" stroke="#262626" stroke-width="0.95"/>
<path d="M880.05 1062.3v-3" stroke="#262626" stroke-width="0.95"/>
<path d="M896.24 1502.3v3" stroke="#262626" stroke-width="0.95"/>
<path d="M896.24 1062.3v-3" stroke="#262626" stroke-width="0.95"/>
<path d="M910.52 1502.3v3" stroke="#262626" stroke-width="0.95"/>
<path d="M910.52 1062.3v-3" stroke="#262626" stroke-width="0.95"/>
<path d="M923.3 1502.3v5.3" stroke="#262626" stroke-width="1.25"/>
<path d="M923.3 1062.3v-5.3" stroke="#262626" stroke-width="1.25"/>
<path d="M85.6 1502.4h-5.3" stroke="#262626" stroke-width="1.25"/>
<path d="M85.6 1453.18h-5.3" stroke="#262626" stroke-width="1.25"/>
<path d="M85.6 1403.96h-5.3" stroke="#262626" stroke-width="1.25"/>
<path d="M85.6 1354.74h-5.3" stroke="#262626" stroke-width="1.25"/>
<path d="M85.6 1305.52h-5.3" stroke="#262626" stroke-width="1.25"/>
<path d="M85.6 1256.3h-5.3" stroke="#262626" stroke-width="1.25"/>
<path d="M85.6 1207.08h-5.3" stroke="#262626" stroke-width="1.25"/>
<path d="M85.6 1157.86h-5.3" stroke="#262626" stroke-width="1.25"/>
<path d="M85.6 1108.64h-5.3" stroke="#262626" stroke-width="1.25"/>
<path d="M85.6 1492.56h-3" stroke="#262626" stroke-width="0.95"/>
<path d="M85.6 1482.71h-3" stroke="#262626" stroke-width="0.95"/>
<path d="M85.6 1472.87h-3" stroke="#262626" stroke-width="0.95"/>
<path d="M85.6 1463.02h-3" stroke="#262626" stroke-width="0.95"/>
<path d="M85.6 1443.34h-3" stroke="#262626" stroke-width="0.95"/>
<path d="M85.6 1433.49h-3" stroke="#262626" stroke-width="0.95"/>
<path d="M85.6 1423.65h-3" stroke="#262626" stroke-width="0.95"/>
<path d="M85.6 1413.8h-3" stroke="#262626" stroke-width="0.95"/>
<path d="M85.6 1394.12h-3" stroke="#262626" stroke-width="0.95"/>
<path d="M85.6 1384.27h-3" stroke="#262626" stroke-width="0.95"/>
<path d="M85.6 1374.43h-3" stroke="#262626" stroke-width="0.95"/>
<path d="M85.6 1364.58h-3" stroke="#262626" stroke-width="0.95"/>
<path d="M85.6 1344.9h-3" stroke="#262626" stroke-width="0.95"/>
<path d="M85.6 1335.05h-3" stroke="#262626" stroke-width="0.95"/>
<path d="M85.6 1325.21h-3" stroke="#262626" stroke-width="0.95"/>
<path d="M85.6 1315.36h-3" stroke="#262626" stroke-width="0.95"/>
<path d="M85.6 1295.68h-3" stroke="#262626" stroke-width="0.95"/>
<path d="M85.6 1285.83h-3" stroke="#262626" stroke-width="0.95"/>
<path d="M85.6 1275.99h-3" stroke="#262626" stroke-width="0.95"/>
<path d="M85.6 1266.14h-3" stroke="#262626" stroke-width="0.95"/>
<path d="M85.6 1246.46h-3" stroke="#262626" stroke-width="0.95"/>
<path d="M85.6 1236.61h-3" stroke="#262626" stroke-width="0.95"/>
<path d="M85.6 1226.77h-3" stroke="#262626" stroke-width="0.95"/>
<path d="M85.6 1216.92h-3" stroke="#262626" stroke-width="0.95"/>
<path d="M85.6 1197.24h-3" stroke="#262626" stroke-width="0.95"/>
<path d="M85.6 1187.39h-3" stroke="#262626" stroke-width="0.95"/>
<path d="M85.6 1177.55h-3" stroke="#262626" stroke-width="0.95"/>
<path d="M85.6 1167.7h-3" stroke="#262626" stroke-width="0.95"/>
<path d="M85.6 1148.02h-3" stroke="#262626" stroke-width="0.95"/>
<path d="M85.6 1138.17h-3" stroke="#262626" stroke-width="0.95"/>
<path d="M85.6 1128.33h-3" stroke="#262626" stroke-width="0.95"/>
<path d="M85.6 1118.48h-3" stroke="#262626" stroke-width="0.95"/>
<path d="M85.6 1098.8h-3" stroke="#262626" stroke-width="0.95"/>
<path d="M85.6 1088.95h-3" stroke="#262626" stroke-width="0.95"/>
<path d="M85.6 1079.11h-3" stroke="#262626" stroke-width="0.95"/>
<path d="M85.6 1069.26h-3" stroke="#262626" stroke-width="0.95"/>
<path d="M923.3 1502.4h5.3" stroke="#262626" stroke-width="1.25"/>
<path d="M923.3 1440.12h5.3" stroke="#262626" stroke-width="1.25"/>
<path d="M923.3 1377.84h5.3" stroke="#262626" stroke-width="1.25"/>
<path d="M923.3 1315.56h5.3" stroke="#262626" stroke-width="1.25"/>
<path d="M923.3 1253.28h5.3" stroke="#262626" stroke-width="1.25"/>
<path d="M923.3 1191h5.3" stroke="#262626" stroke-width="1.25"/>
<path d="M923.3 1128.72h5.3" stroke="#262626" stroke-width="1.25"/>
<path d="M923.3 1066.44h5.3" stroke="#262626" stroke-width="1.25"/>
<path d="M85.6 1501.6L155 1501.6 156.5 1501.6 158 1501.6 159.5 1501.6 161 1501.6 162.5 1501.6 164 1501.6 165.5 1501.6 167 1501.6 168.5 1501.6 170 1501.6 171.5 1501.6 173 1501.6 174.5 1501.6 176 1501.6 177.5 1501.6 179 1501.6 180.5 1501.6 182 1501.6 183.5 1501.6 185 1501.6 186.5 1501.6 188 1501.6 189.5 1501.6 191 1501.59 192.5 1501.55 194 1501.51 195.5 1501.46 197 1501.4 198.5 1501.35 200 1501.28 201.5 1501.22 203 1501.14 204.5 1501.06 206 1500.98 207.5 1500.89 209 1500.79 210.5 1500.69 212 1500.58 213.5 1500.46 215 1500.34 216.5 1500.21 218 1500.07 219.5 1499.93 221 1499.77 222.5 1499.61 224 1499.45 225.5 1499.27 227 1499.09 228.5 1498.89 230 1498.69 231.5 1498.48 233 1498.26 234.5 1498.04 236 1497.8 237.5 1497.55 239 1497.3 240.5 1497.03 242 1496.75 243.5 1496.47 245 1496.17 246.5 1495.85 248 1495.53 249.5 1495.19 251 1494.83 252.5 1494.45 254 1494.06 255.5 1493.65 257 1493.22 258.5 1492.77 260 1492.29 261.5 1491.8 263 1491.28 264.5 1490.74 266 1490.17 267.5 1489.57 269 1488.95 270.5 1488.3 272 1487.62 273.5 1486.91 275 1486.16 276.5 1485.39 278 1484.58 279.5 1483.74 281 1482.87 282.5 1481.96 284 1481.01 285.5 1480.02 287 1479 288.5 1477.93 290 1476.83 291.5 1475.68 293 1474.49 294.5 1473.26 296 1471.98 297.5 1470.66 299 1469.3 300.5 1467.89 302 1466.45 303.5 1464.98 305 1463.47 306.5 1461.95 308 1460.41 309.5 1458.85 311 1457.28 312.5 1455.7 314 1454.12 315.5 1452.55 317 1450.97 318.5 1449.41 320 1447.87 321.5 1446.34 323 1444.83 324.5 1443.35 326 1441.9 327.5 1440.49 329 1439.11 330.5 1437.76 332 1436.45 333.5 1435.18 335 1433.94 336.5 1432.74 338 1431.58 339.5 1430.45 341 1429.37 342.5 1428.32 344 1427.31 345.5 1426.34 347 1425.41 348.5 1424.52 350 1423.67 351.5 1422.86 353 1422.09 354.5 1421.36 356 1420.67 357.5 1420 359 1419.37 360.5 1418.75 362 1418.16 363.5 1417.57 365 1417 366.5 1416.44 368 1415.88 369.5 1415.31 371 1414.74 372.5 1414.16 374 1413.57 375.5 1412.96 377 1412.33 378.5 1411.67 380 1410.99 381.5 1410.27 383 1409.51 384.5 1408.71 386 1407.86 387.5 1406.96 389 1406.01 390.5 1405.01 392 1403.94 393.5 1402.8 395 1401.6 396.5 1400.32 398 1398.96 399.5 1397.52 401 1395.99 402.5 1394.38 404 1392.67 405.5 1390.86 407 1388.95 408.5 1386.93 410 1384.81 411.5 1382.59 413 1380.27 414.5 1377.85 416 1375.33 417.5 1372.71 419 1370 420.5 1367.21 422 1364.32 423.5 1361.34 425 1358.28 426.5 1355.14 428 1351.93 429.5 1348.65 431 1345.32 432.5 1341.93 434 1338.5 435.5 1335.03 437 1331.54 438.5 1328.02 440 1324.49 441.5 1320.94 443 1317.39 444.5 1313.82 446 1310.25 447.5 1306.67 449 1303.09 450.5 1299.5 452 1295.91 453.5 1292.32 455 1288.73 456.5 1285.15 458 1281.57 459.5 1277.99 461 1274.42 462.5 1270.86 464 1267.3 465.5 1263.75 467 1260.19 468.5 1256.64 470 1253.07 471.5 1249.51 473 1245.93 474.5 1242.35 476 1238.75 477.5 1235.14 479 1231.51 480.5 1227.86 482 1224.2 483.5 1220.51 485 1216.8 486.5 1213.07 488 1209.32 489.5 1205.54 491 1201.74 492.5 1197.92 494 1194.08 495.5 1190.21 497 1186.32 498.5 1182.4 500 1178.45 501.5 1174.48 503 1170.49 504.5 1166.46 506 1162.41 507.5 1158.33 509 1154.22 510.5 1150.09 512 1145.94 513.5 1141.78 515 1137.65 516.5 1133.54 518 1129.48 519.5 1125.49 521 1121.58 522.5 1117.76 524 1114.06 525.5 1110.48 527 1107.05 528.5 1103.79 530 1100.7 531.5 1097.8 533 1095.12 534.5 1092.66 536 1090.44 537.5 1088.49 539 1086.81 540.5 1085.42 542 1084.33 543.5 1083.55 545 1083.08 546.5 1082.9 548 1083.01 549.5 1083.41 551 1084.1 552.5 1085.07 554 1086.32 555.5 1087.85 557 1089.65 558.5 1091.71 560 1094.04 561.5 1096.63 563 1099.48 564.5 1102.58 566 1105.92 567.5 1109.49 569 1113.27 570.5 1117.24 572 1121.39 573.5 1125.69 575 1130.13 576.5 1134.7 578 1139.36 579.5 1144.12 581 1148.94 582.5 1153.81 584 1158.72 585.5 1163.64 587 1168.56 588.5 1173.46 590 1178.33 591.5 1183.16 593 1187.96 594.5 1192.72 596 1197.45 597.5 1202.15 599 1206.81 600.5 1211.45 602 1216.05 603.5 1220.62 605 1225.17 606.5 1229.68 608 1234.17 609.5 1238.62 611 1243.05 612.5 1247.46 614 1251.83 615.5 1256.19 617 1260.51 618.5 1264.82 620 1269.1 621.5 1273.36 623 1277.59 624.5 1281.8 626 1285.98 627.5 1290.14 629 1294.28 630.5 1298.39 632 1302.48 633.5 1306.54 635 1310.57 636.5 1314.58 638 1318.56 639.5 1322.51 641 1326.44 642.5 1330.34 644 1334.2 645.5 1338.03 647 1341.8 648.5 1345.53 650 1349.2 651.5 1352.8 653 1356.35 654.5 1359.81 656 1363.21 657.5 1366.52 659 1369.74 660.5 1372.87 662 1375.91 663.5 1378.84 665 1381.67 666.5 1384.41 668 1387.05 669.5 1389.6 671 1392.06 672.5 1394.43 674 1396.73 675.5 1398.94 677 1401.07 678.5 1403.13 680 1405.12 681.5 1407.04 683 1408.89 684.5 1410.68 686 1412.41 687.5 1414.08 689 1415.69 690.5 1417.25 692 1418.77 693.5 1420.23 695 1421.65 696.5 1423.03 698 1424.37 699.5 1425.67 701 1426.94 702.5 1428.18 704 1429.4 705.5 1430.58 707 1431.75 708.5 1432.89 710 1434.02 711.5 1435.14 713 1436.24 714.5 1437.33 716 1438.42 717.5 1439.51 719 1440.6 720.5 1441.69 722 1442.78 723.5 1443.87 725 1444.97 726.5 1446.07 728 1447.17 729.5 1448.28 731 1449.38 732.5 1450.48 734 1451.58 735.5 1452.68 737 1453.78 738.5 1454.87 740 1455.96 741.5 1457.05 743 1458.13 744.5 1459.21 746 1460.28 747.5 1461.34 749 1462.4 750.5 1463.44 752 1464.48 753.5 1465.52 755 1466.54 756.5 1467.55 758 1468.55 759.5 1469.54 761 1470.51 762.5 1471.48 764 1472.43 765.5 1473.36 767 1474.28 768.5 1475.19 770 1476.08 771.5 1476.95 773 1477.81 774.5 1478.65 776 1479.47 777.5 1480.27 779 1481.06 780.5 1481.82 782 1482.56 783.5 1483.29 785 1484 786.5 1484.68 788 1485.35 789.5 1486 791 1486.64 792.5 1487.25 794 1487.85 795.5 1488.43 797 1488.99 798.5 1489.54 800 1490.07 801.5 1490.58 803 1491.08 804.5 1491.56 806 1492.03 807.5 1492.48 809 1492.92 810.5 1493.34 812 1493.75 813.5 1494.14 815 1494.52 816.5 1494.89 818 1495.24 819.5 1495.58 821 1495.9 822.5 1496.21 824 1496.51 825.5 1496.8 827 1497.08 828.5 1497.34 830 1497.59 831.5 1497.83 833 1498.06 834.5 1498.28 836 1498.49 837.5 1498.69 839 1498.87 840.5 1499.05 842 1499.22 843.5 1499.37 845 1499.52 846.5 1499.66 848 1499.79 849.5 1499.92 851 1500.03 852.5 1500.14 854 1500.23 855.5 1500.32 857 1500.41 858.5 1500.48 860 1500.55 861.5 1500.62 863 1500.67 864.5 1500.72 866 1500.77 867.5 1500.81 869 1500.84 870.5 1500.87 872 1500.89 873.5 1500.91 875 1500.92 876.5 1500.93 878 1500.94 879.5 1500.94 881 1500.94 882.5 1500.94 884 1500.93 885.5 1500.92 887 1500.91 888.5 1500.89 890 1500.88 891.5 1500.86 893 1500.84 894.5 1500.82 896 1500.79 897.5 1500.77 899 1500.75 900.5 1500.72 902 1500.7 903.5 1500.68 905 1500.65 906.5 1500.63 908 1500.61 909.5 1500.59 911 1500.57 912.5 1500.55 914 1500.53 915.5 1500.52 917 1500.51 918.5 1500.5 920 1500.49 921.5 1500.49 923 1500.49 924.5 1500.49 926 1500.5 927.5 1500.51 929 1500.52 930.5 1500.54 932 1500.57 933.5 1500.6 935 1500.63 923.3 1501.6" fill="none" stroke="#000" stroke-opacity="0.68" stroke-width="1.55" stroke-linejoin="round"/>
<text x="72.8" y="1510.8" font-size="24" text-anchor="end" textLength="14.4" lengthAdjust="spacingAndGlyphs">0</text>
<text x="72.8" y="1461.58" font-size="24" text-anchor="end" textLength="28.8" lengthAdjust="spacingAndGlyphs">10</text>
<text x="72.8" y="1412.36" font-size="24" text-anchor="end" textLength="28.8" lengthAdjust="spacingAndGlyphs">20</text>
<text x="72.8" y="1363.14" font-size="24" text-anchor="end" textLength="28.8" lengthAdjust="spacingAndGlyphs">30</text>
<text x="72.8" y="1313.92" font-size="24" text-anchor="end" textLength="28.8" lengthAdjust="spacingAndGlyphs">40</text>
<text x="72.8" y="1264.7" font-size="24" text-anchor="end" textLength="28.8" lengthAdjust="spacingAndGlyphs">50</text>
<text x="72.8" y="1215.48" font-size="24" text-anchor="end" textLength="28.8" lengthAdjust="spacingAndGlyphs">60</text>
<text x="72.8" y="1166.26" font-size="24" text-anchor="end" textLength="28.8" lengthAdjust="spacingAndGlyphs">70</text>
<text x="72.8" y="1117.04" font-size="24" text-anchor="end" textLength="28.8" lengthAdjust="spacingAndGlyphs">80</text>
<text x="934" y="1511.4" font-size="24" text-anchor="start" textLength="36.3" lengthAdjust="spacingAndGlyphs">0.0</text>
<text x="934" y="1449.12" font-size="24" text-anchor="start" textLength="36.3" lengthAdjust="spacingAndGlyphs">0.2</text>
<text x="934" y="1386.84" font-size="24" text-anchor="start" textLength="36.3" lengthAdjust="spacingAndGlyphs">0.4</text>
<text x="934" y="1324.56" font-size="24" text-anchor="start" textLength="36.3" lengthAdjust="spacingAndGlyphs">0.6</text>
<text x="934" y="1262.28" font-size="24" text-anchor="start" textLength="36.3" lengthAdjust="spacingAndGlyphs">0.8</text>
<text x="934" y="1200" font-size="24" text-anchor="start" textLength="36.3" lengthAdjust="spacingAndGlyphs">1.0</text>
<text x="934" y="1137.72" font-size="24" text-anchor="start" textLength="36.3" lengthAdjust="spacingAndGlyphs">1.2</text>
<text x="934" y="1075.44" font-size="24" text-anchor="start" textLength="36.3" lengthAdjust="spacingAndGlyphs">1.4</text>
<text x="65.64" y="1535" font-size="24" text-anchor="start" textLength="28.82" lengthAdjust="spacingAndGlyphs">10</text>
<text x="95.47" y="1526.36" font-size="16.8" text-anchor="start" textLength="10.09" lengthAdjust="spacingAndGlyphs">2</text>
<text x="344.84" y="1535" font-size="24" text-anchor="start" textLength="28.82" lengthAdjust="spacingAndGlyphs">10</text>
<text x="374.67" y="1526.36" font-size="16.8" text-anchor="start" textLength="10.09" lengthAdjust="spacingAndGlyphs">3</text>
<text x="624.14" y="1535" font-size="24" text-anchor="start" textLength="28.82" lengthAdjust="spacingAndGlyphs">10</text>
<text x="653.97" y="1526.36" font-size="16.8" text-anchor="start" textLength="10.09" lengthAdjust="spacingAndGlyphs">4</text>
<text x="903.34" y="1535" font-size="24" text-anchor="start" textLength="28.82" lengthAdjust="spacingAndGlyphs">10</text>
<text x="933.17" y="1526.36" font-size="16.8" text-anchor="start" textLength="10.09" lengthAdjust="spacingAndGlyphs">5</text>
<text x="504.3" y="1566" font-size="24" text-anchor="middle" textLength="100" lengthAdjust="spacingAndGlyphs"><tspan font-style='italic'>S</tspan><tspan font-style='italic' font-size='16.8' dy='3.4'>obs</tspan><tspan dy='-3.4'> (au)</tspan></text>
<text x="33" y="1285" font-size="24" text-anchor="middle" textLength="69.5" lengthAdjust="spacingAndGlyphs" transform="rotate(-90 33 1285)">Count</text>
<text x="996.3" y="1287" font-size="24" text-anchor="middle" textLength="42.5" lengthAdjust="spacingAndGlyphs" transform="rotate(-90 996.3 1287)">PDF</text>
<rect x="647.6" y="1074.6" width="264" height="154.2" rx="4.5" fill="#fff" fill-opacity="0.8" stroke="#d0d0d0" stroke-width="1.5"/>
<rect x="656.6" y="1086.2" width="48" height="16.9" fill="#008000"/>
<text x="725.3" y="1104.5" font-size="23.2" text-anchor="start" textLength="115" lengthAdjust="spacingAndGlyphs"><tspan font-style='italic'>d</tspan> ≤ 2 [99]</text>
<rect x="656.6" y="1122.8" width="48" height="16.9" fill="#ffff00"/>
<text x="725.3" y="1141.1" font-size="23.2" text-anchor="start" textLength="176" lengthAdjust="spacingAndGlyphs">2 &lt; <tspan font-style='italic'>d</tspan> ≤ 3 [201]</text>
<rect x="656.6" y="1160.1" width="48" height="16.9" fill="#ffa500"/>
<text x="725.3" y="1178.4" font-size="23.2" text-anchor="start" textLength="176" lengthAdjust="spacingAndGlyphs">3 &lt; <tspan font-style='italic'>d</tspan> ≤ 4 [176]</text>
<rect x="656.6" y="1196.7" width="48" height="16.9" fill="#ff0000"/>
<text x="725.3" y="1215" font-size="23.2" text-anchor="start" textLength="115" lengthAdjust="spacingAndGlyphs">4 &lt; <tspan font-style='italic'>d</tspan> [67]</text>
</g>
</g>
</svg>
</body></html>
